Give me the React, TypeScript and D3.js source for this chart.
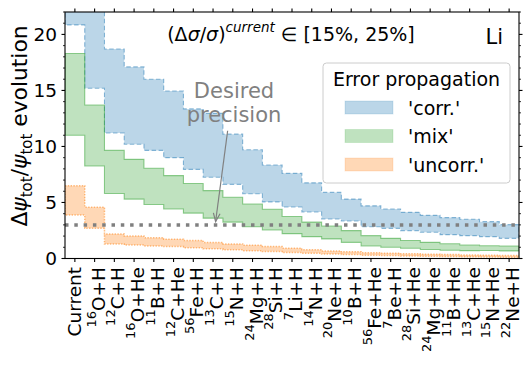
import * as d3 from "d3";

// reaction labels: mass number (superscript) + species
const reactionIso = ["", "16", "12", "16", "11", "12", "56", "13", "15", "24", "28", "7", "14", "20", "10", "56", "7", "28", "24", "11", "13", "15", "22"];
const reactionEl = ["Current", "O+H", "C+H", "O+He", "B+H", "C+He", "Fe+H", "C+H", "N+H", "Mg+H", "Si+H", "Li+H", "N+H", "Ne+H", "B+H", "Fe+He", "Be+H", "Si+He", "Mg+He", "B+He", "C+He", "N+He", "Ne+H"];

// error propagation bands (upper / lower envelope)
const corrUpper = [26, 24, 18.7, 17.1, 16.0, 14.95, 13.35, 12.95, 11.1, 9.7, 8.35, 7.6, 6.75, 5.9, 5.3, 4.7, 4.42, 4.12, 3.85, 3.65, 3.5, 3.29, 3.02];
const corrLower = [20.85, 15.2, 11.2, 10.2, 9.65, 9.0, 7.95, 7.25, 6.62, 5.78, 5.05, 4.6, 4.15, 3.52, 3.35, 2.84, 2.69, 2.49, 2.34, 2.13, 2.04, 1.95, 1.8];
const mixUpper = [18.3, 13.7, 9.65, 8.85, 8.05, 7.4, 6.7, 6.06, 5.46, 4.87, 4.4, 3.75, 3.25, 2.9, 2.49, 2.04, 1.8, 1.6, 1.44, 1.32, 1.2, 1.14, 1.12];
const mixLower = [11.0, 8.26, 5.8, 5.3, 4.82, 4.42, 4.05, 3.6, 3.25, 2.84, 2.54, 2.22, 1.95, 1.75, 1.44, 1.12, 1.0, 0.92, 0.8, 0.74, 0.7, 0.72, 0.68];
const uncorrUpper = [6.5, 4.57, 2.18, 2.0, 1.86, 1.72, 1.6, 1.42, 1.3, 1.18, 1.06, 0.92, 0.78, 0.68, 0.6, 0.52, 0.47, 0.42, 0.38, 0.35, 0.32, 0.29, 0.26];
const uncorrLower = [3.88, 2.69, 1.3, 1.2, 1.12, 1.06, 0.97, 0.86, 0.77, 0.7, 0.62, 0.53, 0.47, 0.4, 0.35, 0.3, 0.26, 0.23, 0.2, 0.18, 0.16, 0.14, 0.12];

const legendLabels = ["'corr.'", "'mix'", "'uncorr.'"];
const bandColors = ["#1f77b4", "#2ca02c", "#ff7f0e"];
const bandDash = ["4.5,2.5", null, "1.4,1.4"];

const desiredPrecision = 3;
const arrowFrom = [7.74, 11.4];
const arrowTo = [7.13, 3.3];
const yMax = 22;

const W = 531;
const H = 366;
const plotLeft = 65;
const plotRight = 519;
const plotTop = 12;
const plotBottom = 258.5;
const font = "'DejaVu Sans', sans-serif";

const x = d3.scaleLinear().domain([-0.5, reactionEl.length - 0.5]).range([plotLeft, plotRight]);
const y = d3.scaleLinear().domain([0, yMax]).range([plotBottom, plotTop]);

const bandPath = (lo: number[], hi: number[]) => {
  const pts = lo.map((v, i) => ({ x: i - 0.5, lo: v, hi: hi[i] }));
  pts.push({ x: lo.length - 0.5, lo: lo[lo.length - 1], hi: hi[hi.length - 1] });
  return d3
    .area<{ x: number; lo: number; hi: number }>()
    .x((d) => x(d.x))
    .y0((d) => y(d.lo))
    .y1((d) => y(d.hi))
    .curve(d3.curveStepAfter)(pts) as string;
};

const bands = [
  [corrLower, corrUpper],
  [mixLower, mixUpper],
  [uncorrLower, uncorrUpper],
];

export default function App() {
  const majorY = d3.range(0, yMax + 1, 5);
  const minorY = d3.range(0, yMax + 1, 1).filter((v) => v % 5 !== 0);
  const ax0 = x(arrowFrom[0]);
  const ay0 = y(arrowFrom[1]);
  const ax1 = x(arrowTo[0]);
  const ay1 = y(arrowTo[1]);
  const ang = Math.atan2(ay1 - ay0, ax1 - ax0);
  const head = 9;
  const spread = 0.38;
  const legendX = 323;
  const legendY = 63;

  return (
    <svg
      width={W}
      height={H}
      viewBox={`0 0 ${W} ${H}`}
      style={{ position: "absolute", left: 0, top: 0, background: "#fff" }}
      fontFamily={font}
    >
      <defs>
        <clipPath id="plot-clip">
          <rect x={plotLeft} y={plotTop} width={plotRight - plotLeft} height={plotBottom - plotTop} />
        </clipPath>
      </defs>
      <rect x={0} y={0} width={W} height={H} fill="#fff" />

      <g clipPath="url(#plot-clip)">
        {bands.map(([lo, hi], k) => (
          <path
            key={k}
            d={bandPath(lo, hi)}
            fill={bandColors[k]}
            fillOpacity={0.3}
            stroke={bandColors[k]}
            strokeOpacity={0.5}
            strokeWidth={k === 2 ? 1.5 : 1.1}
            strokeDasharray={bandDash[k] ?? undefined}
          />
        ))}
        <line
          x1={plotLeft}
          x2={plotRight}
          y1={y(desiredPrecision)}
          y2={y(desiredPrecision)}
          stroke="#808080"
          strokeWidth={3.5}
          strokeDasharray="3.5,5.8"
        />
      </g>

      {/* annotation */}
      <text x={234} y={98} textAnchor="middle" fontSize={21} fill="#808080">
        Desired
      </text>
      <text x={234} y={122} textAnchor="middle" fontSize={21} fill="#808080">
        precision
      </text>
      <line x1={ax0} y1={ay0} x2={ax1} y2={ay1} stroke="#808080" strokeWidth={1.2} />
      <path
        d={`M${ax1 - head * Math.cos(ang - spread)},${ay1 - head * Math.sin(ang - spread)} L${ax1},${ay1} L${
          ax1 - head * Math.cos(ang + spread)
        },${ay1 - head * Math.sin(ang + spread)}`}
        fill="none"
        stroke="#808080"
        strokeWidth={1.2}
      />

      {/* axes frame */}
      <rect
        x={plotLeft}
        y={plotTop}
        width={plotRight - plotLeft}
        height={plotBottom - plotTop}
        fill="none"
        stroke="#000"
        strokeWidth={1.1}
      />

      {/* y ticks left & right */}
      {majorY.map((v) => (
        <g key={`my${v}`}>
          <line x1={plotLeft - 3.5} x2={plotLeft} y1={y(v)} y2={y(v)} stroke="#000" strokeWidth={1.1} />
          <line x1={plotRight} x2={plotRight + 3.5} y1={y(v)} y2={y(v)} stroke="#000" strokeWidth={1.1} />
          <text x={plotLeft - 8} y={y(v)} dy="0.36em" textAnchor="end" fontSize={18.5}>
            {v}
          </text>
        </g>
      ))}
      {minorY.map((v) => (
        <g key={`ny${v}`}>
          <line x1={plotLeft - 2} x2={plotLeft} y1={y(v)} y2={y(v)} stroke="#000" strokeWidth={0.8} />
          <line x1={plotRight} x2={plotRight + 2} y1={y(v)} y2={y(v)} stroke="#000" strokeWidth={0.8} />
        </g>
      ))}

      {/* x ticks bottom & top with rotated labels */}
      {reactionEl.map((el, i) => {
        const iso = reactionIso[i];
        return (
          <g key={`x${i}`}>
            <line x1={x(i)} x2={x(i)} y1={plotBottom} y2={plotBottom + 3.5} stroke="#000" strokeWidth={1.1} />
            <line x1={x(i)} x2={x(i)} y1={plotTop - 3.5} y2={plotTop} stroke="#000" strokeWidth={1.1} />
            <g transform={`translate(${x(i)},267) rotate(-90)`}>
              <text textAnchor="end" y={iso ? 10 : 6.5} fontSize={18.5}>
                {iso ? (
                  <>
                    <tspan fontSize={13} dy={-9}>
                      {iso}
                    </tspan>
                    <tspan dy={9}>{el}</tspan>
                  </>
                ) : (
                  el
                )}
              </text>
            </g>
          </g>
        );
      })}

      {/* y label */}
      <text transform={`translate(27,126) rotate(-90)`} textAnchor="middle" fontSize={21.8}>
        Δ<tspan fontStyle="italic">ψ</tspan>
        <tspan fontSize={15} dy={4.5}>
          tot
        </tspan>
        <tspan dy={-4.5}>/</tspan>
        <tspan fontStyle="italic">ψ</tspan>
        <tspan fontSize={15} dy={4.5}>
          tot
        </tspan>
        <tspan dy={-4.5}>{" evolution"}</tspan>
      </text>

      {/* title-ish text */}
      <text x={291} y={41} textAnchor="middle" fontSize={19}>
        (Δ<tspan fontStyle="italic">σ</tspan>/<tspan fontStyle="italic">σ</tspan>)
        <tspan fontSize={13.5} fontStyle="italic" dy={-9}>
          current
        </tspan>
        <tspan dy={9}>{" ∈ [15%, 25%]"}</tspan>
      </text>
      <text x={503} y={44} textAnchor="end" fontSize={21}>
        Li
      </text>

      {/* legend */}
      <g>
        <rect
          x={legendX}
          y={legendY}
          width={187}
          height={120}
          rx={3.5}
          fill="#fff"
          fillOpacity={0.8}
          stroke="#cccccc"
          strokeWidth={1}
        />
        <text x={legendX + 93.5} y={86} textAnchor="middle" fontSize={19}>
          Error propagation
        </text>
        {legendLabels.map((lab, k) => (
          <g key={lab} transform={`translate(0,${k * 28.5})`}>
            <rect
              x={345}
              y={101}
              width={48}
              height={13}
              fill={bandColors[k]}
              fillOpacity={0.3}
              stroke={bandColors[k]}
              strokeOpacity={0.15}
            />
            <text x={408} y={114.5} fontSize={19}>
              {lab}
            </text>
          </g>
        ))}
      </g>
    </svg>
  );
}
